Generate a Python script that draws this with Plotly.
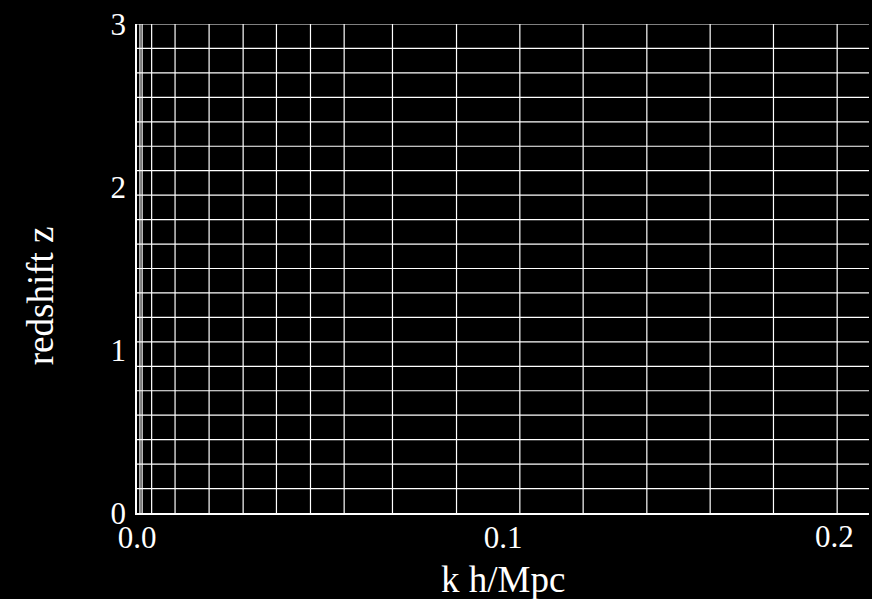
import plotly.graph_objects as go

# k bin edges (h/Mpc) and redshift bin edges
k_edges = [0.0008, 0.0014, 0.0040, 0.0104, 0.0197, 0.0290, 0.0381, 0.0474,
           0.0566, 0.0698, 0.0873, 0.1046, 0.1219, 0.1393, 0.1566, 0.1739, 0.1913]
z_edges = [0.15, 0.30, 0.45, 0.60, 0.75, 0.90, 1.05, 1.20, 1.35, 1.50,
           1.65, 1.80, 1.95, 2.10, 2.25, 2.40, 2.55, 2.70, 2.85, 3.00]
k_range = [0.0, 0.2]
z_range = [0.0, 3.0]
x_tick_vals = [0.0, 0.1]
x_tick_text = ["0.0", "0.1"]
x_last_tick = 0.2
x_last_text = "0.2"
y_tick_vals = [0, 1, 2, 3]
y_tick_text = ["0", "1", "2", "3"]

FONT = "Liberation Serif, Times New Roman, serif"

xs, ys = [], []
for k in k_edges:
    xs += [k, k, None]
    ys += [z_range[0], z_range[1], None]
for z in z_edges:
    xs += [k_range[0], k_range[1], None]
    ys += [z, z, None]

fig = go.Figure()
fig.add_trace(go.Scatter(x=xs, y=ys, mode="lines",
                         line=dict(color="white", width=1.2),
                         hoverinfo="skip", showlegend=False))

W, H = 872, 599
ml, mr, mt, mb = 137, 3, 24, 86
pw, ph = W - ml - mr, H - mt - mb

fig.update_layout(
    width=W, height=H,
    margin=dict(l=ml, r=mr, t=mt, b=mb),
    paper_bgcolor="black", plot_bgcolor="black",
    font=dict(family=FONT, color="white", size=31),
    showlegend=False,
    xaxis=dict(range=k_range, tickvals=x_tick_vals, ticktext=x_tick_text,
               showgrid=False, zeroline=False, showline=True,
               linecolor="white", linewidth=1.5, ticks="",
               ticklabelstandoff=-4,
               tickfont=dict(family=FONT, size=31, color="white")),
    yaxis=dict(range=z_range, tickvals=y_tick_vals, ticktext=y_tick_text,
               showgrid=False, zeroline=False, showline=True,
               linecolor="white", linewidth=1.5, ticks="",
               ticklabelstandoff=3,
               tickfont=dict(family=FONT, size=31, color="white")),
    annotations=[
        dict(text=x_last_text, x=x_last_tick, xref="x", y=0, yref="paper",
             yanchor="top", xanchor="center", xshift=-34.6, yshift=-4,
             showarrow=False, font=dict(family=FONT, size=31, color="white")),
        dict(text="k h/Mpc", x=0.5, xref="paper",
             y=(513.5 - 580) / ph, yref="paper", xanchor="center", yanchor="middle",
             showarrow=False, font=dict(family=FONT, size=37, color="white")),
        dict(text="redshift z", x=(40 - ml) / pw, xref="paper",
             y=(513.5 - 296.7) / ph, yref="paper", xanchor="center", yanchor="middle",
             textangle=-90, showarrow=False,
             font=dict(family=FONT, size=37, color="white")),
    ],
)

fig.write_html("out.html")
